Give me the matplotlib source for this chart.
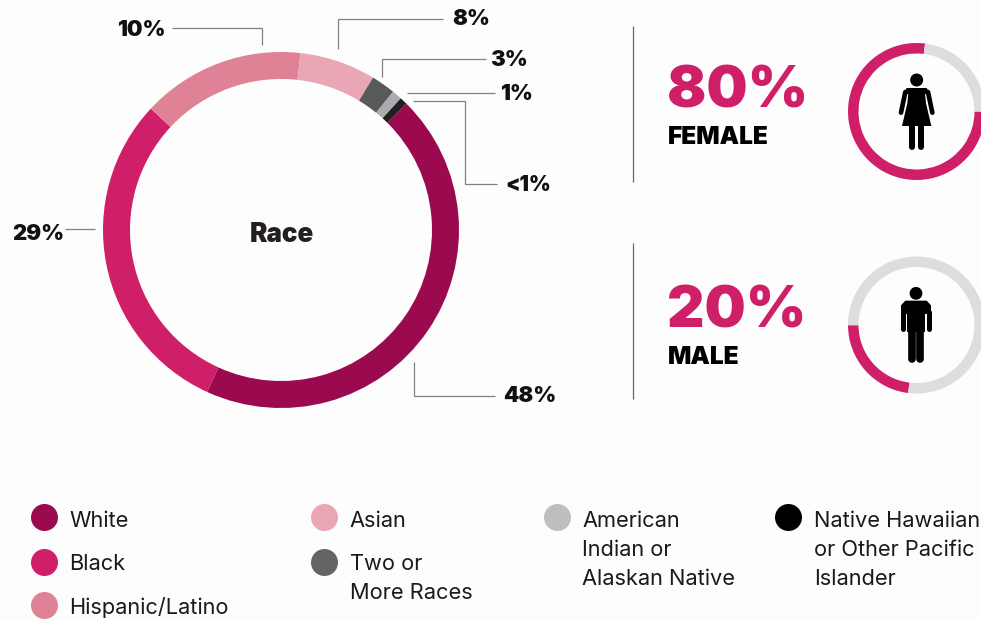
import matplotlib
matplotlib.use("Agg")
import matplotlib.pyplot as plt
from matplotlib.patches import Circle, Polygon

# race groups, clockwise from the top right of the ring
races = ["White", "Black", "Hispanic/Latino", "Asian", "Two or\nMore Races",
         "American\nIndian or\nAlaskan Native", "Native Hawaiian\nor Other Pacific\nIslander"]
race_labels = ["48%", "29%", "10%", "8%", "3%", "1%", "<1%"]
# the share of the ring each arc takes up on the picture
race_arcs = [44.36, 30.14, 14.8, 6.9, 2.2, 0.9, 0.7]
race_colors = ["#9b0a4f", "#d01f69", "#df8296", "#e9a7b5", "#58595b", "#a9abae", "#231f20"]
legend_colors = ["#9b0a4f", "#d01f69", "#df8296", "#e9a7b5", "#636466", "#bcbec0", "#000000"]

female_arcs = [77, 23]
male_arcs = [23, 77]
female_label = "80%"
male_label = "20%"

PINK = "#d01f69"
RING_GREY = "#dcdddf"
LINE = "#808080"
BG = "#fdfdfd"

fig = plt.figure(figsize=(9.81, 6.19), dpi=100, facecolor=BG)
W, H = 981, 619

ax = fig.add_axes([0, 0, 1, 1])
ax.set_xlim(0, W)
ax.set_ylim(H, 0)
ax.axis("off")


def ring(cx, cy, r, width, values, colors, start):
    # an axes of its own so the pie stays in its native -1..1 scale
    pax = fig.add_axes([(cx - r) / W, 1 - (cy + r) / H, 2 * r / W, 2 * r / H])
    pax.pie(values, colors=colors, startangle=start, counterclock=False, radius=1,
            wedgeprops={"width": width / r, "linewidth": 0})
    pax.set_xlim(-1, 1)
    pax.set_ylim(-1, 1)
    pax.patch.set_alpha(0)
    return pax


ring(281, 230, 178, 27, race_arcs, race_colors, 45.2)
ring(916.5, 111.5, 68.5, 10.5, female_arcs, [PINK, RING_GREY], 0)
ring(916.5, 325, 68.5, 10.5, male_arcs, [PINK, RING_GREY], 263)


def px(size):
    return size * 0.72


def heavy(x, y, s, size, color="#111111", ha="left"):
    ax.text(x, y, s, fontsize=px(size), color=color, ha=ha, va="center",
            family="Inter", weight=900)


def poly(points, color=LINE):
    ax.plot([p[0] for p in points], [p[1] for p in points], color=color, lw=0.9,
            solid_joinstyle="miter", solid_capstyle="butt")


# leader lines
poly([(172, 28), (262, 28), (262, 45)])
poly([(338, 49), (338, 19), (443, 19)])
poly([(382, 77), (382, 59), (486, 59)])
poly([(407, 93), (495, 93)])
poly([(413, 101), (465, 101), (465, 184), (497, 184)])
poly([(414, 362), (414, 396), (495, 396)])
poly([(65, 229), (95, 229)])

heavy(117, 30, race_labels[2], 22)
heavy(452, 19, race_labels[3], 22)
heavy(490, 60, race_labels[4], 22)
heavy(500, 94, race_labels[5], 22)
heavy(505, 185, race_labels[6], 21)
heavy(503, 396, race_labels[0], 22)
heavy(12, 234, race_labels[1], 22)
heavy(282, 235, "Race", 26, color="#231f20", ha="center")

# gender panel
poly([(632.5, 26), (632.5, 182)], color="#666666")
poly([(632.5, 243), (632.5, 399)], color="#666666")
heavy(667, 93, female_label, 58, color=PINK)
heavy(667, 313, male_label, 58, color=PINK)
heavy(668, 138, "FEMALE", 24.5, color="#000000")
heavy(668, 358, "MALE", 24.5, color="#000000")


def icon_shape(ox, oy, pts):
    ax.add_patch(Polygon([(ox + x / 3, oy + y / 3) for x, y in pts], color="black", lw=0))


def icon_limb(ox, oy, x0, y0, x1, y1, width):
    ax.plot([ox + x0 / 3, ox + x1 / 3], [oy + y0 / 3, oy + y1 / 3], color="black",
            lw=width / 3 * 0.72, solid_capstyle="round")


# woman icon
ox, oy = 890, 70
ax.add_patch(Circle((ox + 80 / 3, oy + 30 / 3), 6.5, color="black", lw=0))
icon_shape(ox, oy, [(50, 54), (110, 54), (120, 72), (40, 72)])
icon_shape(ox, oy, [(56, 60), (104, 60), (108, 100), (124, 168), (36, 168), (52, 100)])
icon_limb(ox, oy, 46, 66, 33, 128, 14)
icon_limb(ox, oy, 114, 66, 127, 128, 14)
icon_limb(ox, oy, 67, 165, 67, 232, 18)
icon_limb(ox, oy, 93, 165, 93, 232, 18)

# man icon
ox, oy = 890, 282
ax.add_patch(Circle((ox + 78 / 3, oy + 34 / 3), 6.4, color="black", lw=0))
icon_shape(ox, oy, [(46, 56), (110, 56), (123, 70), (123, 96), (33, 96), (33, 70)])
icon_shape(ox, oy, [(51, 60), (106, 60), (106, 150), (51, 150)])
icon_limb(ox, oy, 40, 90, 40, 142, 15)
icon_limb(ox, oy, 116, 90, 116, 142, 15)
icon_limb(ox, oy, 65, 145, 65, 232, 23)
icon_limb(ox, oy, 91, 145, 91, 232, 23)

# legend
legend_x = [44, 44, 44, 324, 324, 557, 788]
legend_y = [517, 562, 605, 517, 562, 517, 517]
text_x = [70, 70, 70, 350, 350, 583, 815]
text_y = [521, 564, 607, 521, 564, 521, 521]
for i in range(len(races)):
    ax.scatter([legend_x[i]], [legend_y[i]], s=(27 * 0.72) ** 2, color=legend_colors[i],
               linewidths=0, clip_on=False)
    for n, line in enumerate(races[i].split("\n")):
        ax.text(text_x[i] - 0.5, text_y[i] + n * 29, line, fontsize=px(21.8), color="#1a1a1a",
                ha="left", va="center", family="Inter")

fig.savefig("out.png", dpi=100, facecolor=BG)
